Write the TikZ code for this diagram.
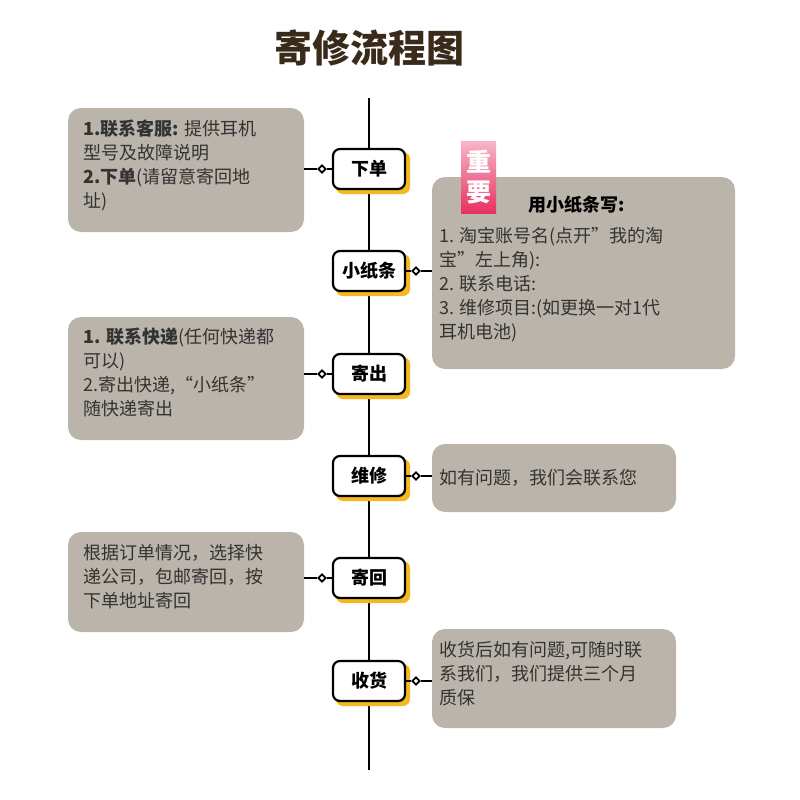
\documentclass[tikz,border=0pt]{standalone}
\usepackage{fontspec}
\setmainfont{Noto Sans CJK SC}
\usetikzlibrary{shapes.geometric}
\begin{document}
\begin{tikzpicture}[x=1pt,y=-1pt,
  stepbox/.style={draw=black,line width=2.2pt,fill=white,rounded corners=7pt,minimum width=72pt,minimum height=40pt,font=\fontsize{18}{20}\selectfont\bfseries},
  stepsh/.style={fill=shadc,rounded corners=7pt,minimum width=74pt,minimum height=42pt},
  dia/.style={draw=black,line width=1.8pt,fill=white,diamond,minimum size=8pt,inner sep=0pt},
  txt/.style={anchor=north west,align=left,font=\fontsize{18}{24}\selectfont,text=txtc},
  conn/.style={line width=1.8pt}]
\definecolor{boxc}{HTML}{BAB4AA}
\definecolor{txtc}{HTML}{333333}
\definecolor{titc}{HTML}{3A2A1A}
\definecolor{pinkc}{HTML}{E8305F}
\definecolor{shadc}{HTML}{F5B820}
\useasboundingbox (0,0) rectangle (800,800);
\node[font=\fontsize{38}{42}\selectfont\bfseries,text=titc] (title) at (369,48) {寄修流程图};
\coordinate (top) at (369,98); \coordinate (bot) at (369,770);
\draw[line width=2pt] (top) -- (bot);
% left boxes
\path[fill=boxc,rounded corners=13pt] (68,108) rectangle (304,232);
\node[txt] (l1) at (80,116) {\textbf{1.联系客服:} 提供耳机\\型号及故障说明\\\textbf{2.下单}(请留意寄回地\\址)};
\coordinate (l1e) at (304,169);
\path[fill=boxc,rounded corners=13pt] (68,317) rectangle (304,440);
\node[txt] (l3) at (80,324) {\textbf{1. 联系快递}(任何快递都\\可以)\\2.寄出快递,“小纸条”\\随快递寄出};
\coordinate (l3e) at (304,374);
\path[fill=boxc,rounded corners=13pt] (68,532) rectangle (304,632);
\node[txt] (l5) at (80,541) {根据订单情况，选择快\\递公司，包邮寄回，按\\下单地址寄回};
\coordinate (l5e) at (304,578);
% right boxes
\path[fill=boxc,rounded corners=13pt] (432,177) rectangle (735,369);
\node[font=\fontsize{18}{20}\selectfont\bfseries,text=black] (r2t) at (577,205) {用小纸条写:};
\node[txt] (r2) at (436,224) {1. 淘宝账号名(点开"我的淘\\宝"左上角):\\2. 联系电话:\\3. 维修项目:(如更换一对1代\\耳机电池)};
\coordinate (r2e) at (432,271);
\path[fill=boxc,rounded corners=13pt] (432,444) rectangle (676,512);
\node[txt,anchor=west] (r4) at (436,478) {如有问题，我们会联系您};
\coordinate (r4e) at (432,476);
\path[fill=boxc,rounded corners=13pt] (432,629) rectangle (676,728);
\node[txt] (r6) at (436,638) {收货后如有问题,可随时联\\系我们，我们提供三个月\\质保};
\coordinate (r6e) at (432,681);
% badge
\path[top color=pinkc!35!white,bottom color=pinkc] (461,141) rectangle (496,213);
\node[text=white,font=\fontsize{25}{30}\selectfont\bfseries,align=center] (badge) at (478.5,177) {重\\要};
% steps
\foreach \n/\y/\t in {s1/169/下单,s2/271/小纸条,s3/374/寄出,s4/476/维修,s5/578/寄回,s6/681/收货}{
  \node[stepsh] (\n sh) at (373,\y+4) {};
  \node[stepbox] (\n) at (369,\y) {\t};
}
% connectors
\node[dia] (d1) at (322,169) {}; \draw[conn] (l1e) -- (d1); \draw[conn] (d1) -- (s1);
\node[dia] (d3) at (322,374) {}; \draw[conn] (l3e) -- (d3); \draw[conn] (d3) -- (s3);
\node[dia] (d5) at (322,578) {}; \draw[conn] (l5e) -- (d5); \draw[conn] (d5) -- (s5);
\node[dia] (d2) at (416,271) {}; \draw[conn] (s2) -- (d2); \draw[conn] (d2) -- (r2e);
\node[dia] (d4) at (416,476) {}; \draw[conn] (s4) -- (d4); \draw[conn] (d4) -- (r4e);
\node[dia] (d6) at (416,681) {}; \draw[conn] (s6) -- (d6); \draw[conn] (d6) -- (r6e);
\end{tikzpicture}
\end{document}
